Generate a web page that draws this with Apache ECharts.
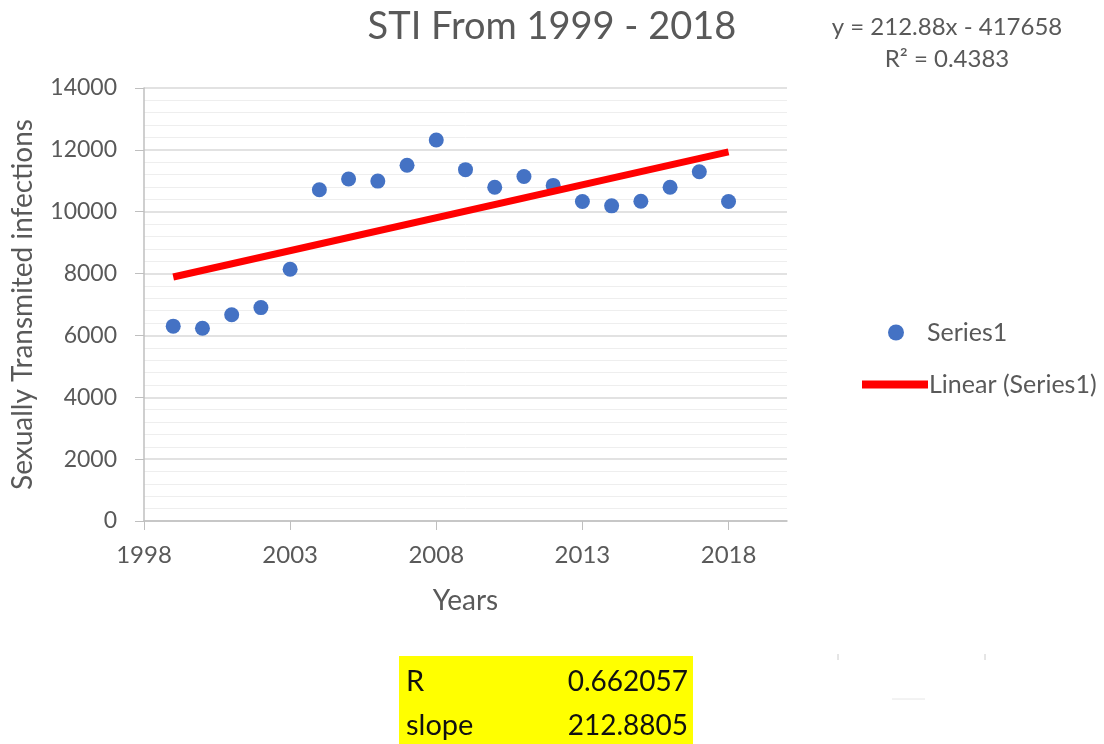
<!DOCTYPE html>
<html>
<head>
<meta charset="utf-8">
<script src="https://cdn.jsdelivr.net/npm/echarts@6/dist/echarts.min.js"></script>
<style>
  html, body { margin: 0; padding: 0; background: #fff; }
  #chart { width: 1104px; height: 744px; }
</style>
</head>
<body>
<div id="chart"></div>
<script>
// data
const years = [1999, 2000, 2001, 2002, 2003, 2004, 2005, 2006, 2007, 2008,
  2009, 2010, 2011, 2012, 2013, 2014, 2015, 2016, 2017, 2018];
const infections = [6300, 6230, 6670, 6900, 8140, 10710, 11060, 10990, 11500, 12320,
  11360, 10790, 11140, 10850, 10330, 10190, 10340, 10790, 11290, 10330];
// trendline end points (y = 212.88x - 417658)
const trendYears = [1999, 2018];
const trendValues = [7889, 11934];
const equationLines = ['y = 212.88x - 417658', 'R² = 0.4383'];
const tableRows = [['R', '0.662057'], ['slope', '212.8805']];

const FONT = 'Lato';
const GREY = '#595959';

const chart = echarts.init(document.getElementById('chart'));

const option = {
  backgroundColor: '#fff',
  textStyle: { fontFamily: FONT },
  title: {
    text: 'STI From 1999 - 2018',
    left: 547,
    top: 3,
    textAlign: 'center',
    textStyle: { fontFamily: FONT, fontSize: 38, fontWeight: 'normal', color: GREY }
  },
  legend: [
    {
      data: [{ name: 'Series1', icon: 'circle' }],
      left: 883, top: 315,
      itemWidth: 16, itemHeight: 16,
      textStyle: { fontFamily: FONT, fontSize: 25, color: GREY, padding: [0, 0, 0, 18] }
    },
    {
      data: [{ name: 'Linear (Series1)', icon: 'rect' }],
      left: 857, top: 367,
      itemWidth: 66, itemHeight: 8,
      textStyle: { fontFamily: FONT, fontSize: 25, color: GREY, padding: [0, 0, 0, -4] }
    }
  ],
  grid: { left: 144, right: 317, top: 88, bottom: 223 },
  xAxis: {
    type: 'value',
    min: 1998, max: 2020, interval: 5,
    name: 'Years',
    nameLocation: 'middle',
    nameGap: 66,
    nameTextStyle: { fontFamily: FONT, fontSize: 28, color: GREY },
    axisLine: { show: true, lineStyle: { color: '#bfbfbf', width: 1.5 } },
    axisTick: { show: true, length: 9, lineStyle: { color: '#bfbfbf' } },
    axisLabel: {
      fontFamily: FONT, fontSize: 24, color: GREY, margin: 22, showMaxLabel: false,
      formatter: (v) => String(v)
    },
    splitLine: { show: false }
  },
  yAxis: {
    type: 'value',
    min: 0, max: 14000, interval: 2000,
    name: 'Sexually Transmited infections',
    nameLocation: 'middle',
    nameGap: 107,
    nameRotate: 90,
    nameTextStyle: { fontFamily: FONT, fontSize: 28, color: GREY },
    axisLine: { show: true, lineStyle: { color: '#bfbfbf', width: 1.5 } },
    axisTick: { show: true, length: 9, lineStyle: { color: '#bfbfbf' } },
    minorTick: { show: false, splitNumber: 5 },
    axisLabel: {
      fontFamily: FONT, fontSize: 23, color: GREY, margin: 27,
      formatter: (v) => String(v)
    },
    splitLine: { show: true, lineStyle: { color: '#d9d9d9', width: 1.5 } },
    minorSplitLine: { show: true, lineStyle: { color: '#eeeeee', width: 1 } }
  },
  series: [
    {
      name: 'Series1',
      type: 'scatter',
      symbolSize: 15,
      itemStyle: { color: '#4472c4', opacity: 1 },
      data: years.map((y, i) => [y, infections[i]]),
      z: 3
    },
    {
      name: 'Linear (Series1)',
      type: 'line',
      symbol: 'none',
      lineStyle: { color: '#ff0000', width: 7 },
      itemStyle: { color: '#ff0000' },
      data: trendYears.map((y, i) => [y, trendValues[i]]),
      z: 4
    }
  ],
  graphic: [
    {
      type: 'text',
      style: {
        text: equationLines.join('\n'),
        x: 947, y: 11,
        align: 'center',
        lineHeight: 32,
        fontFamily: FONT, fontSize: 24, fill: GREY
      }
    },
    {
      type: 'rect',
      shape: { x: 399, y: 656, width: 294, height: 88 },
      style: { fill: '#ffff00' }
    },
    ...tableRows.flatMap((row, i) => [
      {
        type: 'text',
        style: {
          text: row[0], x: 406, y: 682 + i * 44,
          verticalAlign: 'middle', align: 'left',
          fontFamily: FONT, fontSize: 29, fill: '#111'
        }
      },
      {
        type: 'text',
        style: {
          text: row[1], x: 688, y: 682 + i * 44,
          verticalAlign: 'middle', align: 'right',
          fontFamily: FONT, fontSize: 28, fill: '#111'
        }
      }
    ]),
    // faint cell border marks from the sheet
    { type: 'line', shape: { x1: 838, y1: 654, x2: 838, y2: 660 }, style: { stroke: '#cccccc' } },
    { type: 'line', shape: { x1: 985, y1: 654, x2: 985, y2: 660 }, style: { stroke: '#cccccc' } },
    { type: 'line', shape: { x1: 892, y1: 699, x2: 925, y2: 699 }, style: { stroke: '#e6e6e6' } }
  ]
};

chart.setOption(option);
</script>
</body>
</html>
